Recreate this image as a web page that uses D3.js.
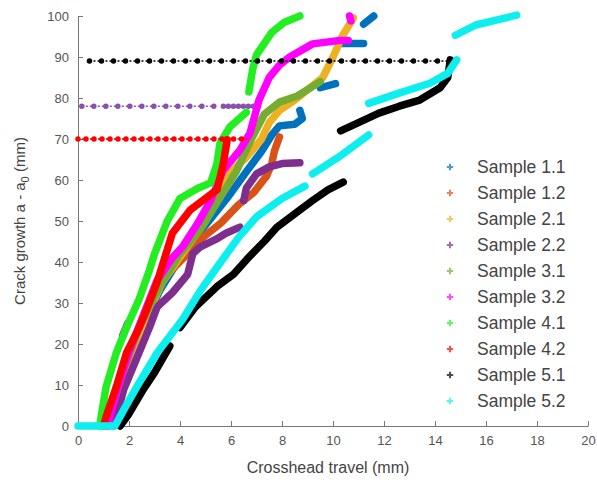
<!DOCTYPE html>
<html>
<head>
<meta charset="utf-8">
<script src="https://cdn.jsdelivr.net/npm/d3@7"></script>
<style>
  body { margin: 0; background: #fff; }
  text { font-family: "Liberation Sans", Arial, sans-serif; }
</style>
</head>
<body>
<svg id="chart" width="597" height="480"></svg>
<script>
// sample names (legend order = drawing order)
var samples = ["Sample 1.1", "Sample 1.2", "Sample 2.1", "Sample 2.2", "Sample 3.1",
               "Sample 3.2", "Sample 4.1", "Sample 4.2", "Sample 5.1", "Sample 5.2"];
var colors = ["#0072bd", "#d95319", "#edb120", "#7e2f8e", "#77ac30",
              "#ff00ff", "#22ee22", "#ff0000", "#000000", "#11eeee"];

// crack growth curves, [crosshead travel, crack growth], split where the record breaks
var s11 = [
  [[1.2, 0], [1.7, 10], [2.4, 22], [3.2, 33], [4.1, 42], [5.0, 49], [5.9, 56], [6.6, 62], [7.2, 67], [7.6, 71], [7.9, 73.2], [8.5, 73.6], [8.8, 75], [8.7, 77]],
  [[9.5, 82.5], [10.1, 83.5]],
  [[10.3, 93.3], [11.2, 93.3]],
  [[11.2, 98], [11.6, 100]]
];
var s12 = [
  [[1.1, 0], [1.6, 10], [2.2, 20], [2.8, 30], [3.5, 37], [4.3, 42], [4.9, 46], [5.6, 49.5], [6.3, 54], [6.9, 57], [7.4, 61], [7.6, 64], [7.7, 67], [7.9, 70.5]]
];
var s21 = [
  [[1.2, 0], [1.8, 12], [2.5, 24], [3.3, 35], [4.2, 43], [5.0, 50], [5.6, 57], [6.0, 62], [6.6, 65.5], [7.2, 70], [7.5, 74], [7.9, 77], [8.5, 79.5], [9.0, 82], [9.6, 85], [10.0, 90], [10.4, 95.5], [10.8, 99.5]]
];
var s22 = [
  [[1.4, 0], [1.8, 9], [2.0, 12], [2.4, 18], [2.8, 24], [3.1, 29], [3.7, 32.5], [4.3, 37], [4.5, 42], [4.8, 43.7], [5.4, 45.5], [5.8, 47], [6.35, 48.5]],
  [[1.75, 22], [1.95, 25]],
  [[6.5, 55], [6.6, 58], [7.0, 61.5], [7.5, 63.2], [8.0, 64], [8.7, 64.2]]
];
var s31 = [
  [[1.1, 0], [1.7, 12], [2.4, 24], [3.2, 34], [4.0, 42], [4.8, 48], [5.5, 55], [6.2, 62], [6.8, 70], [7.3, 76], [7.9, 79], [8.6, 80.5], [9.5, 84]]
];
var s32 = [
  [[1.15, 0], [1.5, 8], [2.0, 18], [2.5, 26], [3.1, 35.5], [3.7, 41], [4.1, 43.7], [4.7, 49.5], [5.2, 55], [5.7, 62.4], [6.35, 67.3], [6.75, 71.5], [7.1, 79.5], [7.5, 85], [7.9, 88], [8.3, 90], [9.2, 93.2], [10.2, 94], [10.6, 94]],
  [[10.65, 100], [10.7, 98.8]]
];
var s41 = [
  [[0.85, 0], [0.9, 2], [1.1, 9.5], [1.5, 17.8], [1.9, 24], [2.4, 31], [2.8, 38], [3.0, 42], [3.5, 50], [4.0, 55.5], [4.7, 58], [5.2, 59.3], [5.45, 64], [5.57, 69], [5.96, 73], [6.6, 76.5]],
  [[6.7, 81.5], [6.85, 87], [7.0, 90.5], [7.6, 96], [8.1, 98.5], [8.7, 100]]
];
var s42 = [
  [[1.0, 0], [1.1, 2.2], [1.5, 9.5], [1.9, 17.8], [2.4, 24], [2.6, 27], [3.1, 35], [3.7, 47], [4.4, 52.7], [5.45, 57.6], [5.7, 64], [5.85, 69.8]]
];
var s51 = [
  [[1.65, 0], [2.0, 3], [2.55, 8.8], [3.0, 13], [3.6, 19.5]],
  [[4.0, 24], [4.6, 29], [5.45, 34], [6.1, 37], [6.75, 41.5], [7.3, 45], [7.8, 48.5], [8.7, 52.7], [9.2, 55], [9.8, 57.6], [10.4, 59.5]],
  [[10.3, 72], [11.0, 74], [11.8, 76.3], [12.6, 78], [13.4, 79.5], [14.2, 82.5], [14.5, 85], [14.6, 89.3]]
];
var s52 = [
  [[0, 0], [1.45, 0], [1.8, 4], [2.3, 9.5], [3.1, 17.8], [4.1, 26], [4.8, 33], [5.6, 40], [6.3, 46], [7.0, 51], [8.0, 55.5], [8.9, 58.5]],
  [[9.2, 61.5], [10.2, 65.5], [11.4, 71]],
  [[11.4, 78.7], [12.5, 81], [13.8, 83.6], [14.5, 86], [14.85, 89.3]],
  [[14.8, 95.3], [15.6, 97.8], [16.4, 99], [17.2, 100.2]]
];
var curves = [s11, s12, s21, s22, s31, s32, s41, s42, s51, s52];

// flat marker rows (sample index, start, end, level)
var flatRows = [
  { s: 3, x0: 0.15, x1: 5.4, y: 78, gap: 12 },
  { s: 3, x0: 5.7, x1: 7.0, y: 78, gap: 5 },
  { s: 7, x0: 0, x1: 5.9, y: 70, gap: 8 },
  { s: 7, x0: 6.1, x1: 6.7, y: 70, gap: 8 },
  { s: 8, x0: 0.45, x1: 14.6, y: 89, gap: 12 }
];

var xTicks = d3.range(0, 21, 2);
var yTicks = d3.range(0, 101, 10);

var svg = d3.select("#chart");
var margin = { top: 16, right: 9, bottom: 54, left: 78 };
var width = 597 - margin.left - margin.right;
var height = 480 - margin.top - margin.bottom;

var x = d3.scaleLinear().domain([0, 20]).range([0, width]);
var y = d3.scaleLinear().domain([0, 100]).range([height, 0]);

var defs = svg.append("defs");
defs.append("filter").attr("id", "soft")
    .append("feGaussianBlur").attr("stdDeviation", 0.6);
defs.append("clipPath").attr("id", "plotclip")
    .append("rect").attr("x", -6).attr("y", -6).attr("width", width + 12).attr("height", height + 12);

var g = svg.append("g")
    .attr("transform", "translate(" + margin.left + "," + margin.top + ")");

// axes (box off, ticks inside)
var xAxis = g.append("g")
    .attr("transform", "translate(0," + height + ")")
    .call(d3.axisBottom(x).tickValues(xTicks).tickSize(-5).tickPadding(10).tickSizeOuter(0));
var yAxis = g.append("g")
    .call(d3.axisLeft(y).tickValues(yTicks).tickSize(-5).tickPadding(9).tickSizeOuter(0));
[xAxis, yAxis].forEach(function (a) {
    a.select(".domain").attr("stroke", "#777");
    a.selectAll(".tick line").attr("stroke", "#777");
    a.selectAll(".tick text").attr("fill", "#555").style("font-size", "13px")
        .style("font-family", "'Liberation Sans', Arial, sans-serif");
});

var line = d3.line()
    .x(function (d) { return x(d[0]); })
    .y(function (d) { return y(d[1]); });

var plot = g.append("g").attr("clip-path", "url(#plotclip)")
    .append("g").attr("filter", "url(#soft)");

curves.forEach(function (segs, i) {
    // flat rows belonging to this sample
    flatRows.filter(function (r) { return r.s === i; }).forEach(function (r) {
        var pts = [[r.x0, r.y], [r.x1, r.y]];
        plot.append("path").datum(pts)
            .attr("d", line)
            .attr("fill", "none")
            .attr("stroke", colors[i] === "#7e2f8e" ? "#8a4fb0" : colors[i])
            .attr("stroke-width", 1.5)
            .attr("stroke-dasharray", "2 2");
        plot.append("path").datum(pts)
            .attr("d", line)
            .attr("fill", "none")
            .attr("stroke", colors[i] === "#7e2f8e" ? "#8a4fb0" : colors[i])
            .attr("stroke-width", 5.5)
            .attr("stroke-linecap", "round")
            .attr("stroke-dasharray", "0 " + r.gap);
    });
    segs.forEach(function (seg) {
        plot.append("path").datum(seg)
            .attr("d", line)
            .attr("fill", "none")
            .attr("stroke", colors[i])
            .attr("stroke-width", 7.5)
            .attr("stroke-linejoin", "round")
            .attr("stroke-linecap", "round");
    });
});

// legend
var legend = svg.append("g").attr("transform", "translate(450,167)");
var item = legend.selectAll("g")
    .data(samples)
    .enter().append("g")
    .attr("transform", function (d, i) { return "translate(0," + (i * 26) + ")"; });
item.append("path")
    .attr("d", d3.symbol().type(d3.symbolCross).size(22))
    .attr("fill", function (d, i) { return colors[i]; })
    .attr("opacity", 0.7);
item.append("text")
    .attr("x", 27)
    .attr("dy", "0.35em")
    .attr("fill", "#444")
    .style("font-size", "17.5px")
    .text(function (d) { return d; });

// text label for the x axis
svg.append("text")
    .attr("x", 328)
    .attr("y", 473)
    .attr("text-anchor", "middle")
    .attr("fill", "#444")
    .style("font-size", "16px")
    .text("Crosshead travel (mm)");

// text label for the y axis
var ylab = svg.append("text")
    .attr("transform", "translate(25," + (margin.top + height / 2) + ") rotate(-90)")
    .attr("text-anchor", "middle")
    .attr("fill", "#444")
    .style("font-size", "15px");
ylab.append("tspan").text("Crack growth a - a");
ylab.append("tspan").attr("dy", 4).style("font-size", "11px").text("0");
ylab.append("tspan").attr("dy", -4).text(" (mm)");
</script>
</body>
</html>
